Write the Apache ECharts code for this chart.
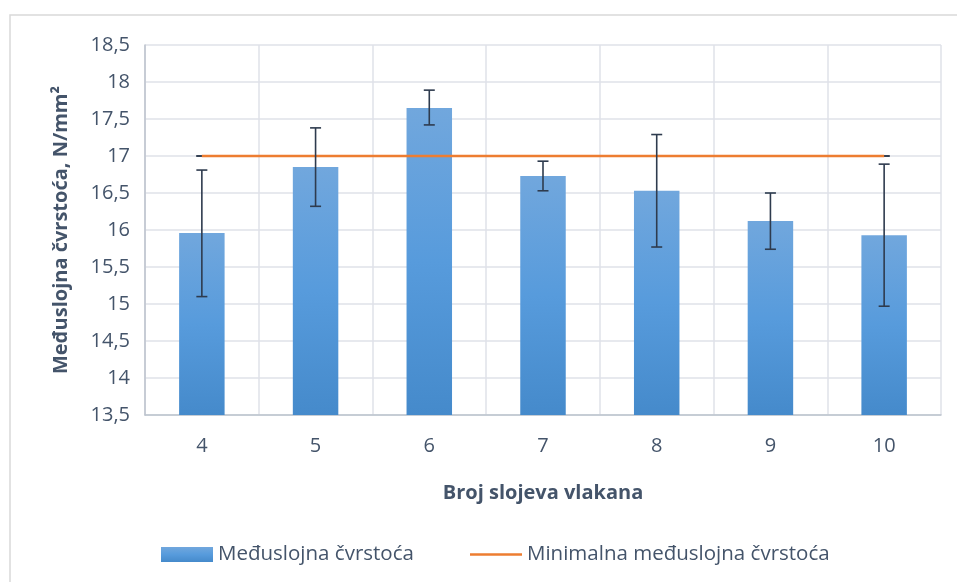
<!DOCTYPE html>
<html>
<head>
<meta charset="utf-8">
<script src="https://cdn.jsdelivr.net/npm/echarts@6/dist/echarts.min.js"></script>
<style>
  html, body { margin: 0; padding: 0; background: #fff; }
  #chart { width: 957px; height: 582px; }
</style>
</head>
<body>
<div id="chart"></div>
<script>
// podaci
var categories = ['4', '5', '6', '7', '8', '9', '10'];
var strength = [15.96, 16.85, 17.65, 16.73, 16.53, 16.12, 15.93];
var errLow = [15.10, 16.32, 17.42, 16.53, 15.77, 15.74, 14.97];
var errHigh = [16.81, 17.38, 17.89, 16.93, 17.29, 16.50, 16.89];
var minStrength = [17, 17, 17, 17, 17, 17, 17];

var textColor = '#44546a';
var fontName = '"Open Sans", sans-serif';

function errorItem(params, api) {
    var x = api.value(0);
    var lo = api.coord([x, api.value(1)]);
    var hi = api.coord([x, api.value(2)]);
    var half = 5.5;
    var style = { stroke: '#2e3b4e', lineWidth: 1.6 };
    return {
        type: 'group',
        children: [
            { type: 'line', shape: { x1: lo[0], y1: lo[1], x2: hi[0], y2: hi[1] }, style: style },
            { type: 'line', shape: { x1: lo[0] - half, y1: lo[1], x2: lo[0] + half, y2: lo[1] }, style: style },
            { type: 'line', shape: { x1: hi[0] - half, y1: hi[1], x2: hi[0] + half, y2: hi[1] }, style: style }
        ]
    };
}

var barErr = categories.map(function (c, i) { return [i, errLow[i], errHigh[i]]; });
var lineErr = categories.map(function (c, i) { return [i, minStrength[i], minStrength[i]]; });

var legendText = { color: textColor, fontSize: 20.5, fontFamily: fontName };

var chart = echarts.init(document.getElementById('chart'));
chart.setOption({
    animation: false,
    graphic: [{
        type: 'rect',
        shape: { x: 10, y: 15, width: 960, height: 600 },
        style: { fill: 'none', stroke: '#d9d9d9', lineWidth: 1.5 },
        silent: true
    }],
    grid: { left: 145, right: 16, top: 45, bottom: 167 },
    legend: [{
        left: 156,
        top: 539,
        itemWidth: 52,
        itemHeight: 15,
        itemTextGap: 5,
        icon: 'rect',
        textStyle: legendText,
        data: ['Međuslojna čvrstoća']
    }, {
        left: 465,
        top: 539,
        itemWidth: 52,
        itemHeight: 15,
        itemTextGap: 5,
        textStyle: legendText,
        data: [{ name: 'Minimalna međuslojna čvrstoća', icon: 'path://M0,6.25 L52,6.25 L52,8.75 L0,8.75 Z' }]
    }],
    xAxis: {
        type: 'category',
        data: categories,
        name: 'Broj slojeva vlakana',
        nameLocation: 'middle',
        nameGap: 68,
        nameTextStyle: { color: textColor, fontSize: 20, fontWeight: 'bold', fontFamily: fontName },
        axisLine: { lineStyle: { color: '#bcc3cd', width: 1.5 } },
        axisTick: { show: false },
        axisLabel: { color: textColor, fontSize: 20, fontFamily: fontName, margin: 21 },
        splitLine: { show: true, lineStyle: { color: '#dfe2e8', width: 1.5 } }
    },
    yAxis: {
        type: 'value',
        min: 13.5,
        max: 18.5,
        interval: 0.5,
        name: 'Međuslojna čvrstoća, N/mm²',
        nameLocation: 'middle',
        nameGap: 74,
        nameTextStyle: { color: textColor, fontSize: 20, fontWeight: 'bold', fontFamily: fontName },
        axisLine: { show: true, lineStyle: { color: '#bcc3cd', width: 1.5 } },
        axisTick: { show: false },
        axisLabel: {
            color: textColor, fontSize: 20, fontFamily: fontName, margin: 15,
            formatter: function (v) { return String(v).replace('.', ','); }
        },
        splitLine: { lineStyle: { color: '#dfe2e8', width: 1.5 } }
    },
    series: [
        {
            name: 'Međuslojna čvrstoća',
            type: 'bar',
            barWidth: '40%',
            data: strength,
            itemStyle: {
                color: new echarts.graphic.LinearGradient(0, 0, 0, 1, [
                    { offset: 0, color: '#71a7dd' },
                    { offset: 0.5, color: '#579bdc' },
                    { offset: 1, color: '#458acb' }
                ])
            },
            z: 2
        },
        {
            type: 'custom',
            renderItem: errorItem,
            data: lineErr,
            z: 3,
            silent: true
        },
        {
            name: 'Minimalna međuslojna čvrstoća',
            type: 'line',
            data: minStrength,
            symbol: 'none',
            lineStyle: { color: '#ed7d31', width: 2.5 },
            itemStyle: { color: '#ed7d31' },
            z: 4
        },
        {
            type: 'custom',
            renderItem: errorItem,
            data: barErr,
            z: 5,
            silent: true
        }
    ]
});
</script>
</body>
</html>
